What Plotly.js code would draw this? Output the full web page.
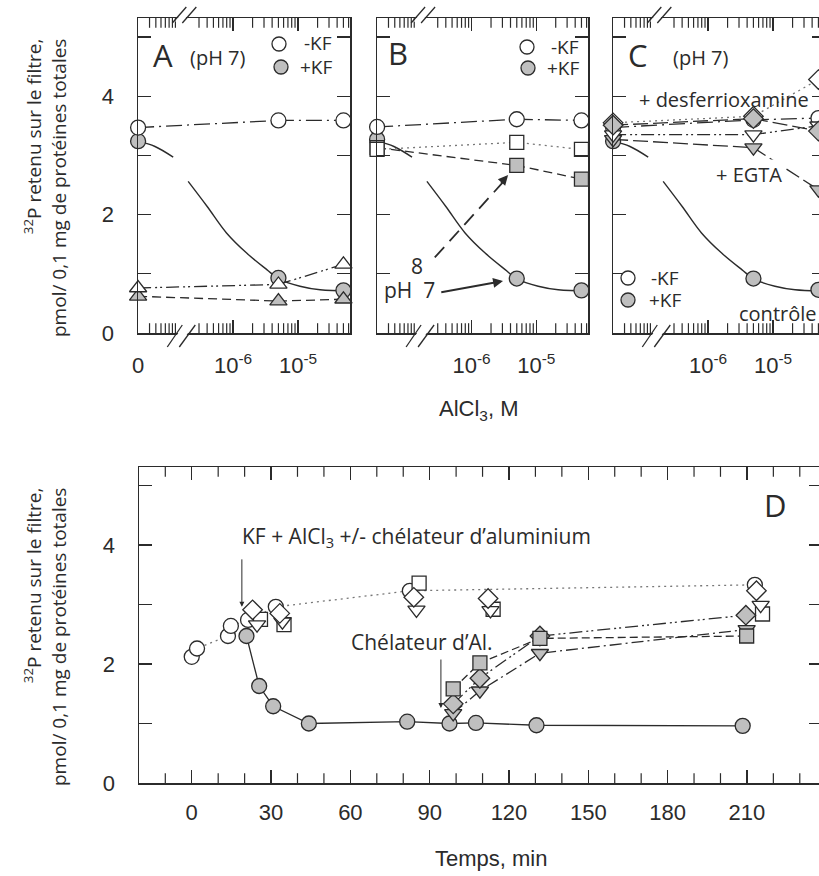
<!DOCTYPE html>
<html><head><meta charset="utf-8">
<script src="https://cdn.plot.ly/plotly-3.0.1.min.js"></script>
<style>html,body{margin:0;padding:0;overflow:hidden;background:#fff}#chart{width:840px;height:876px}</style>
</head><body><div id="chart"></div>
<script>
// ---------------- DATA: panels A-C (AlCl3, M ; 0 = without AlCl3) ----------------
const conc = [0, 5e-6, 5e-5];
const A_minusKF = [3.47, 3.59, 3.59];
const A_plusKF  = [3.24, 0.93, 0.72];
const A_triOpen = [0.76, 0.82, 1.16];
const A_triGray = [0.62, 0.54, 0.57];

const B_minusKF = [3.48, 3.61, 3.59];
const B_plusKF  = [3.27, 0.92, 0.72];
const B_sqOpen  = [3.10, 3.22, 3.10];
const B_sqGray  = [3.13, 2.83, 2.60];

const C_minusKF   = [3.47, 3.60, 3.63];
const C_plusKF    = [3.24, 0.92, 0.73];
const C_diaOpen   = [3.55, 3.66, 4.28];
const C_diaGray   = [3.51, 3.62, 3.41];
const C_triDnOpen = [3.35, 3.35, 3.50];
const C_triDnGray = [3.27, 3.13, 2.42];

// fitted control curve (x in log10 M; first part lies in the "0" region before the break)
const fitLog1 = [-7.46, -7.2, -6.92];
const fitY1   = [3.24, 3.15, 2.97];
const fitLog2 = [-6.69, -6.40, -6.10, -5.79, -5.48, -5.29, -4.97, -4.66, -4.20];
const fitY2   = [2.56, 2.14, 1.69, 1.35, 1.07, 0.91, 0.79, 0.73, 0.71];

// ---------------- DATA: panel D (time, min) ----------------
const D_ctrl_t = [20.7, 25.5, 30.8, 44.3, 81.5, 97.5, 107.5, 130.4, 208.4];
const D_ctrl_y = [2.47, 1.63, 1.29, 1.00, 1.03, 1.00, 1.01, 0.97, 0.96];
const D_circOpen_t = [0, 2, 13.7, 14.8, 21.3, 31.8, 82.5, 213];
const D_circOpen_y = [2.12, 2.26, 2.47, 2.64, 2.74, 2.96, 3.23, 3.33];
const D_sqOpen_t  = [26, 34.9, 86, 114, 215.9];
const D_sqOpen_y  = [2.75, 2.66, 3.36, 2.92, 2.84];
const D_triOpen_t = [24.7, 34.3, 85, 113, 215.2];
const D_triOpen_y = [2.66, 2.71, 2.91, 2.90, 2.99];
const D_diaOpen_t = [23, 33.3, 84, 112.1, 213.6];
const D_diaOpen_y = [2.91, 2.85, 3.12, 3.10, 3.23];
const D_triGray_t = [98.9, 109, 131.7, 209.9];
const D_triGray_y = [1.17, 1.55, 2.18, 2.58];
const D_diaGray_t = [98.9, 109, 131.7, 209.6];
const D_diaGray_y = [1.33, 1.76, 2.47, 2.82];
const D_sqGray_t  = [98.9, 109, 131.7, 209.9];
const D_sqGray_y  = [1.58, 2.02, 2.43, 2.47];

const xTickText = ['0', '10<sup>-6</sup>', '10<sup>-5</sup>'];
const dTicks = [0, 30, 60, 90, 120, 150, 180, 210];

// ---------------- STYLE ----------------
const W = 840, H = 876;
const ink = '#2b2b2b', gray = '#bfbfbf', dotc = '#777';
const SANS = "'Open Sans', 'Noto Sans', sans-serif";
const NARROW = "'Liberation Sans Narrow', 'Arial Narrow', 'Liberation Sans', sans-serif";
const ZERO = -7.46;
const toAx = c => c === 0 ? ZERO : Math.log10(c);
const cx = conc.map(toAx);

function tr(xa, ya, x, y, sym, fill, dash, lc, mode, size) {
  return {type: 'scatter', xaxis: xa, yaxis: ya, x: x, y: y, mode: mode || 'lines+markers',
    cliponaxis: false, hoverinfo: 'skip',
    line: {color: lc || ink, width: 1.3, dash: dash || 'solid'},
    marker: {symbol: sym, size: size || 15, color: fill, line: {color: ink, width: 1.3}}};
}
function curve(xa, ya, x, y) {
  return {type: 'scatter', xaxis: xa, yaxis: ya, x: x, y: y, mode: 'lines', cliponaxis: false,
    hoverinfo: 'skip', line: {color: ink, width: 1.4, shape: 'spline', smoothing: 1}};
}
const DD = '16px,5px,2px,5px';
const DDD = '13px,4px,2px,3px,2px,4px';
const DASH = '9px,5px';
const LDASH = '15px,5px';
const DOT = '2px,4px';

// minor tick positions (log ticks of the broken AlCl3 axis; 10-min ticks for D)
const minorLog = [];
for (let k = 4; k <= 10; k++) minorLog.push(-6.886 - (1 - Math.log10(k)));
for (let k = 3; k <= 9; k++) minorLog.push(-7 + Math.log10(k));
for (let k = 2; k <= 9; k++) minorLog.push(-6 + Math.log10(k));
for (let k = 2; k <= 6; k++) minorLog.push(-5 + Math.log10(k));
const dMinor = [];
for (let t = -10; t <= 230; t += 10) if (t % 30 !== 0) dMinor.push(t);

const TOPX = [-7.4615, -4.2], DX = [-19.95, 238.4];
const TOPY = [0, 5.32], DY = [0, 5.31];

// minor ticks as clipped vertical-line markers sitting on the bottom and top axis lines
function tickTrace(xa, ya, vals, yr) {
  const xs = [], ys = [];
  vals.forEach(v => { xs.push(v, v); ys.push(yr[0], yr[1]); });
  return {type: 'scatter', xaxis: xa, yaxis: ya, x: xs, y: ys, mode: 'markers', cliponaxis: true,
    hoverinfo: 'skip', marker: {symbol: 'line-ns', size: 14, line: {color: ink, width: 1.2}}};
}

const data = [
  tickTrace('x', 'y', minorLog, TOPY), tickTrace('x2', 'y2', minorLog, TOPY),
  tickTrace('x3', 'y3', minorLog, TOPY), tickTrace('x4', 'y4', dMinor, DY),
  curve('x', 'y', fitLog1, fitY1), curve('x', 'y', fitLog2, fitY2),
  tr('x', 'y', cx, A_plusKF, 'circle', gray, 'solid', ink, 'markers'),
  tr('x', 'y', cx, A_minusKF, 'circle', '#fff', DD),
  tr('x', 'y', cx, A_triGray, 'triangle-up', gray, DASH),
  tr('x', 'y', cx, A_triOpen, 'triangle-up', '#fff', DDD),
  curve('x2', 'y2', fitLog1, fitY1), curve('x2', 'y2', fitLog2, fitY2),
  tr('x2', 'y2', cx, B_plusKF, 'circle', gray, 'solid', ink, 'markers'),
  tr('x2', 'y2', cx, B_minusKF, 'circle', '#fff', DD),
  tr('x2', 'y2', cx, B_sqGray, 'square', gray, DASH, ink, 'lines+markers', 14),
  tr('x2', 'y2', cx, B_sqOpen, 'square', '#fff', DOT, dotc, 'lines+markers', 14),
  curve('x3', 'y3', fitLog1, fitY1), curve('x3', 'y3', fitLog2, fitY2),
  tr('x3', 'y3', cx, C_plusKF, 'circle', gray, 'solid', ink, 'markers'),
  tr('x3', 'y3', cx, C_minusKF, 'circle', '#fff', DD),
  tr('x3', 'y3', cx, C_triDnGray, 'triangle-down', gray, LDASH),
  tr('x3', 'y3', cx, C_triDnOpen, 'triangle-down', '#fff', DDD),
  tr('x3', 'y3', cx, C_diaOpen, 'diamond', '#fff', DOT, dotc),
  tr('x3', 'y3', cx, C_diaGray, 'diamond', gray, LDASH),
  tr('x4', 'y4', D_circOpen_t, D_circOpen_y, 'circle', '#fff', DOT, dotc),
  tr('x4', 'y4', D_sqOpen_t, D_sqOpen_y, 'square', '#fff', 'solid', ink, 'markers', 14),
  tr('x4', 'y4', D_triOpen_t, D_triOpen_y, 'triangle-down', '#fff', 'solid', ink, 'markers'),
  tr('x4', 'y4', D_diaOpen_t, D_diaOpen_y, 'diamond', '#fff', 'solid', ink, 'markers'),
  tr('x4', 'y4', D_ctrl_t, D_ctrl_y, 'circle', gray, 'solid'),
  tr('x4', 'y4', D_triGray_t, D_triGray_y, 'triangle-down', gray, '12px,4px,2px,4px'),
  tr('x4', 'y4', D_diaGray_t, D_diaGray_y, 'diamond', gray, DDD),
  tr('x4', 'y4', D_sqGray_t, D_sqGray_y, 'square', gray, '8px,4px', ink, 'lines+markers', 14)
];

const dom = (a, b, n) => [a / n, b / n];
const ydom = (top, bot) => [1 - bot / H, 1 - top / H];

function topX(x0, x1, anchor, labels) {
  return {domain: dom(x0, x1, W), anchor: anchor, range: TOPX, fixedrange: true,
    showline: true, linecolor: ink, linewidth: 1.5, mirror: 'ticks', zeroline: false, showgrid: false,
    ticks: 'inside', ticklen: 13, tickwidth: 1.3, tickcolor: ink,
    tickmode: 'array', tickvals: [ZERO, -6, -5], ticktext: labels,
    tickfont: {family: NARROW, size: 22, color: ink}, ticklabelstandoff: 12};
}
function yAx(top, bot, anchor, range, labels) {
  return {domain: ydom(top, bot), anchor: anchor, range: range, fixedrange: true,
    showline: true, linecolor: ink, linewidth: 1.5, mirror: 'ticks', zeroline: false, showgrid: false,
    ticks: 'inside', ticklen: 13, tickwidth: 1.3, tickcolor: ink,
    tickmode: 'array', tickvals: [0, 1, 2, 3, 4, 5], ticktext: ['0', '', '2', '', '4', ''],
    showticklabels: !!labels, tickfont: {family: NARROW, size: 22, color: ink}, ticklabelstandoff: 18};
}

const layout = {
  width: W, height: H, margin: {l: 0, r: 0, t: 0, b: 0}, autosize: false, showlegend: false,
  paper_bgcolor: '#fff', plot_bgcolor: 'rgba(0,0,0,0)', font: {family: SANS, color: ink},
  xaxis: topX(138, 350, 'y', xTickText),
  yaxis: yAx(18, 333, 'x', TOPY, true),
  xaxis2: topX(377, 588, 'y2', ['', xTickText[1], xTickText[2]]),
  yaxis2: yAx(18, 333, 'x2', TOPY, false),
  xaxis3: topX(613, 825, 'y3', ['', xTickText[1], xTickText[2]]),
  yaxis3: yAx(18, 333, 'x3', TOPY, false),
  xaxis4: {domain: dom(139, 822, W), anchor: 'y4', range: DX, fixedrange: true,
    showline: true, linecolor: ink, linewidth: 1.5, mirror: 'ticks', zeroline: false, showgrid: false,
    ticks: 'inside', ticklen: 13, tickwidth: 1.3, tickcolor: ink,
    tickmode: 'array', tickvals: dTicks, ticktext: dTicks.map(String),
    tickfont: {family: NARROW, size: 22, color: ink}, ticklabelstandoff: 9},
  yaxis4: yAx(467, 783, 'x4', DY, true)
};

// ---------- shapes: axis breaks, legend dots, dashed arrow ----------
const shapes = [];
function brk(xa, ya) {
  const L = -6.78;
  const specs = [
    {yv: 1, l1: [[-10, -5], [4, 11]], l2: [[0, -5], [14, 11]], band: [[-5, -5], [9, 11]], bw: 6},
    {yv: 0, l1: [[-15, -14], [0, 8]], l2: [[-3, -14], [13, 8]], band: [[-9, -14], [6.5, 8]], bw: 8}
  ];
  specs.forEach(s => {
    const base = {type: 'line', xref: xa, yref: ya + ' domain', xsizemode: 'pixel', ysizemode: 'pixel',
      xanchor: L, yanchor: s.yv, layer: 'above'};
    shapes.push(Object.assign({}, base, {x0: s.band[0][0], y0: s.band[0][1], x1: s.band[1][0], y1: s.band[1][1], line: {color: '#fff', width: s.bw}}));
    [s.l1, s.l2].forEach(l => shapes.push(Object.assign({}, base, {x0: l[0][0], y0: l[0][1], x1: l[1][0], y1: l[1][1], line: {color: ink, width: 1.3}})));
  });
}
brk('x', 'y'); brk('x2', 'y2'); brk('x3', 'y3');

function dot(px, py, fill) {
  shapes.push({type: 'circle', xref: 'paper', yref: 'paper', xsizemode: 'pixel', ysizemode: 'pixel',
    xanchor: px / W, yanchor: 1 - py / H, x0: -7, x1: 7, y0: -7, y1: 7,
    fillcolor: fill, line: {color: ink, width: 1.3}, layer: 'above'});
}
dot(279, 44, '#fff'); dot(281, 67, gray);
dot(527, 47, '#fff'); dot(528, 68, gray);
dot(628, 278, '#fff'); dot(628, 300, gray);

shapes.push({type: 'line', xref: 'x2', yref: 'y2', xsizemode: 'pixel', ysizemode: 'pixel',
  xanchor: toAx(conc[1]), yanchor: B_sqGray[1], x0: -82, y0: -92, x1: -14, y1: -17,
  line: {color: ink, width: 1.8, dash: '14px,8px'}, layer: 'above'});
layout.shapes = shapes;

// ---------- annotations ----------
const P = (x, y) => ({xref: 'paper', yref: 'paper', x: x / W, y: 1 - y / H});
function txt(x, y, text, size, extra) {
  return Object.assign(P(x, y), {text: text, showarrow: false, xanchor: 'center', yanchor: 'middle',
    font: {family: SANS, size: size, color: ink}}, extra || {});
}
const ytitle = '<sup>32</sup>P retenu sur le filtre,<br>pmol/ 0,1 mg de protéines totales';
const ann = [
  txt(45, 188, ytitle, 19, {textangle: -90, align: 'right'}),
  txt(45, 637, ytitle, 19, {textangle: -90, align: 'right'}),
  txt(163, 55, 'A', 31), txt(218, 58, '(pH 7)', 20),
  txt(318, 43, '-KF', 19), txt(316, 67, '+KF', 19),
  txt(398, 53, 'B', 31),
  txt(565, 47, '-KF', 19), txt(563, 68, '+KF', 19),
  txt(417, 266, '8', 21), txt(409, 290, 'pH\u00a0\u00a07', 21),
  txt(638, 55, 'C', 31), txt(701, 58, '(pH 7)', 20),
  txt(724, 100, '+ desferrioxamine', 20),
  txt(749, 175, '+ EGTA', 20, {bgcolor: '#fff'}),
  txt(665, 278, '-KF', 19), txt(665, 300, '+KF', 19),
  txt(737, 313, 'contrôle', 20, {xanchor: 'left'}),
  txt(478, 410, 'AlCl<sub>3</sub>, M', 22, {font: {family: NARROW, size: 22, color: ink}}),
  txt(775, 505, 'D', 31),
  txt(416, 537, 'KF + AlCl<sub>3</sub> +/- chélateur d’aluminium', 21),
  txt(422, 642, 'Chélateur d’Al.', 21),
  txt(491, 858, 'Temps, min', 22, {font: {family: NARROW, size: 22, color: ink}}),
  {xref: 'x2', yref: 'y2', x: toAx(conc[1]), y: B_plusKF[1], text: '', showarrow: true, ax: -77, ay: 14,
    standoff: 14, arrowhead: 2, arrowsize: 1.1, arrowwidth: 1.8, arrowcolor: ink},
  {xref: 'x2', yref: 'y2', x: toAx(conc[1]), y: B_sqGray[1], text: '', showarrow: true, ax: -17, ay: 19,
    standoff: 13, arrowhead: 2, arrowsize: 1.1, arrowwidth: 1.8, arrowcolor: ink},
  {xref: 'x4', yref: 'y4', x: 18.96, y: 2.96, text: '', showarrow: true, ax: 0, ay: -49,
    arrowhead: 2, arrowsize: 1, arrowwidth: 1, arrowcolor: ink},
  {xref: 'x4', yref: 'y4', x: 94.25, y: 1.26, text: '', showarrow: true, ax: 0, ay: -50,
    arrowhead: 2, arrowsize: 1, arrowwidth: 1, arrowcolor: ink}
];
layout.annotations = ann;

Plotly.newPlot('chart', data, layout, {staticPlot: true, displayModeBar: false});
</script></body></html>
